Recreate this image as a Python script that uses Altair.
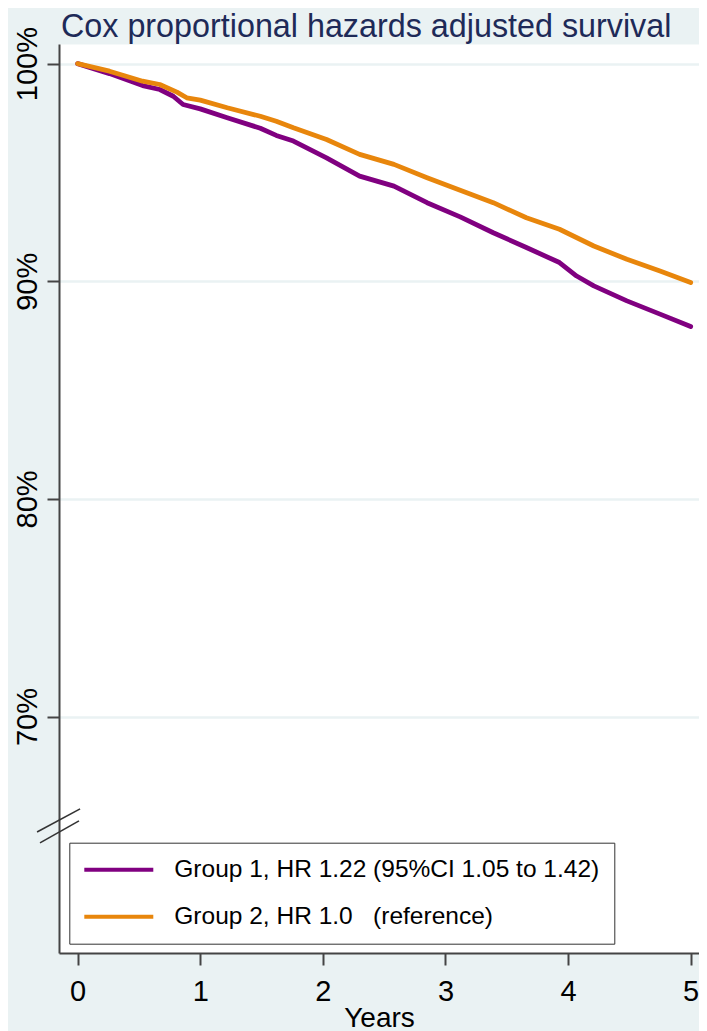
import altair as alt
import pandas as pd

# ---- data ----
years_g1 = [0.00, 0.26, 0.53, 0.67, 0.78, 0.86, 1.00, 1.22, 1.49, 1.62, 1.76, 2.03,
            2.30, 2.58, 2.85, 3.12, 3.39, 3.66, 3.93, 4.07, 4.21, 4.48, 4.75, 5.00]
surv_g1 = [100.00, 99.54, 98.99, 98.81, 98.50, 98.12, 97.92, 97.51, 97.03, 96.70, 96.44, 95.67,
           94.83, 94.37, 93.61, 92.96, 92.23, 91.55, 90.86, 90.24, 89.79, 89.10, 88.49, 87.92]

years_g2 = [0.00, 0.26, 0.53, 0.67, 0.81, 0.89, 1.00, 1.22, 1.49, 1.62, 1.76, 2.03,
            2.30, 2.58, 2.85, 3.12, 3.39, 3.66, 3.93, 4.21, 4.48, 4.75, 5.00]
surv_g2 = [100.00, 99.65, 99.19, 99.04, 98.69, 98.43, 98.32, 97.97, 97.58, 97.35, 97.05, 96.51,
           95.83, 95.37, 94.76, 94.18, 93.61, 92.92, 92.39, 91.62, 91.01, 90.47, 89.94]

group_labels = ["Group 1, HR 1.22 (95%CI 1.05 to 1.42)",
                "Group 2, HR 1.0\u00a0\u00a0 (reference)"]
group_colors = ["#800080", "#e8860c"]

x_ticks = [0, 1, 2, 3, 4, 5]
y_ticks = [70, 80, 90, 100]

# axis-break marks "//" (data space)
break_x = [-0.331, -0.307]
break_x2 = [0.020, 0.011]
break_y = [64.70, 64.20]
break_y2 = [65.76, 65.21]

title_text = "Cox proportional hazards adjusted survival"

# ---- tables ----
df = pd.DataFrame({
    "t": years_g1 + years_g2,
    "s": surv_g1 + surv_g2,
    "g": [group_labels[0]] * len(years_g1) + [group_labels[1]] * len(years_g2),
})
bdf = pd.DataFrame({"t": break_x, "t2": break_x2, "s": break_y, "s2": break_y2})

FONT = "Liberation Sans"
AXIS_COL = "#444444"
BG = "#EAF2F3"

xscale = alt.Scale(domain=[-0.152, 5.068], nice=False, zero=False)
yscale = alt.Scale(domain=[59.14, 100.9], nice=False, zero=False)

xaxis = alt.Axis(values=x_ticks, title="Years", grid=False, format="d",
                 domainColor=AXIS_COL, domainWidth=2, tickColor=AXIS_COL,
                 tickWidth=2, tickSize=12, labelFontSize=29, labelFont=FONT,
                 labelColor="black", labelPadding=12, labelBaseline="top",
                 titleFont=FONT, titleFontSize=28, titleFontWeight="normal",
                 titleColor="black", titlePadding=-2, titleBaseline="top",
                 labelFlush=False)
yaxis = alt.Axis(values=y_ticks, labelExpr="datum.value + '%'", title=None,
                 grid=True, gridColor=BG, gridWidth=2.5,
                 domainColor=AXIS_COL, domainWidth=2, tickColor=AXIS_COL,
                 tickWidth=2, tickSize=12, labelFontSize=29, labelFont=FONT,
                 labelColor="black", labelAngle=270, labelAlign="center",
                 labelBaseline="alphabetic", labelPadding=11, labelFlush=False)

lines = alt.Chart(df).mark_line(strokeWidth=4.8, strokeCap="round", strokeJoin="round").encode(
    x=alt.X("t:Q", scale=xscale, axis=xaxis),
    y=alt.Y("s:Q", scale=yscale, axis=yaxis),
    color=alt.Color("g:N", scale=alt.Scale(domain=group_labels, range=group_colors),
                    legend=alt.Legend(title=None, orient="none", legendX=10.3, legendY=798.7,
                                      symbolType="stroke", symbolSize=4900,
                                      symbolStrokeWidth=4, symbolOffset=-3,
                                      clipHeight=24,
                                      labelFontSize=24.5, labelFont=FONT,
                                      labelColor="black", labelLimit=700, labelOffset=19,
                                      padding=15, rowPadding=22, strokeColor="#333333",
                                      fillColor="white")),
)

breaks = alt.Chart(bdf).mark_rule(color="#333333", strokeWidth=1.6).encode(
    x=alt.X("t:Q", scale=xscale, axis=xaxis),
    x2="t2:Q",
    y=alt.Y("s:Q", scale=yscale, axis=yaxis),
    y2="s2:Q",
)

chart = alt.layer(lines, breaks).properties(
    width=640, height=909,
    padding={"left": 51, "top": 36, "right": 0, "bottom": 78},
    autosize=alt.AutoSizeParams(type="none"),
    title=alt.TitleParams(title_text, anchor="start", frame="group", fontSize=32.3,
                          font=FONT, fontWeight="normal", color="#1e2a58",
                          offset=0, dx=2, dy=17),
    background=BG,
).configure_view(fill="white", stroke="transparent")

chart.save("out.html", embed_options={"renderer": "svg", "actions": False})
